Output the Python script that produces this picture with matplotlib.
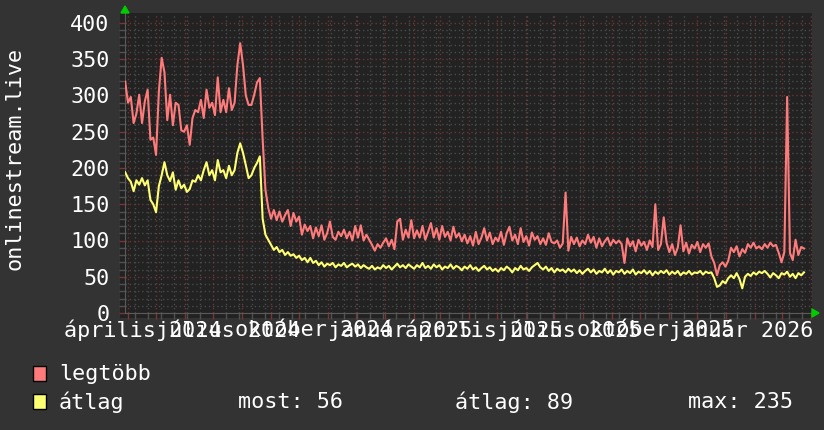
import numpy as np
import pandas as pd
import matplotlib
matplotlib.use('Agg')
import matplotlib.pyplot as plt
from matplotlib.patches import Rectangle, Polygon

# Adatok (3 naponta egy érték)
kezdet = '2024-03-29'
legtobb = [
    319, 290, 298, 262, 275, 301, 262, 292, 308, 239,
    242, 218, 305, 352, 332, 266, 301, 259, 290, 287,
    252, 250, 259, 232, 269, 280, 277, 294, 269, 308,
    283, 290, 273, 325, 277, 294, 277, 310, 280, 290,
    342, 372, 342, 300, 287, 287, 301, 318, 324, 240,
    170, 145, 130, 142, 128, 140, 126, 135, 142, 120,
    138, 126, 133, 108, 122, 113, 120, 103, 118, 106,
    121, 101, 110, 126, 105, 101, 112, 106, 115, 103,
    112, 100, 120, 104, 121, 100, 108, 101, 94, 86,
    95, 90, 97, 103, 92, 101, 88, 126, 130, 101,
    115, 104, 128, 103, 114, 104, 120, 101, 112, 124,
    104, 117, 101, 120, 105, 112, 100, 119, 104, 110,
    99, 108, 96, 106, 93, 112, 95, 104, 117, 100,
    111, 95, 104, 99, 112, 94, 110, 119, 100, 108,
    95, 117, 98, 106, 93, 111, 101, 106, 95, 103,
    94, 110, 98, 96, 100, 90, 96, 166, 86, 105,
    95, 104, 92, 100, 95, 108, 97, 105, 90, 103,
    92, 99, 104, 93, 101, 96, 100, 95, 69, 103,
    92, 99, 85, 101, 93, 98, 87, 100, 91, 150,
    87, 95, 132, 97, 84, 95, 80, 90, 121, 85,
    97, 82, 94, 89, 98, 84, 95, 90, 96, 78,
    69, 52, 66, 70, 64, 72, 90, 84, 92, 78,
    88, 83, 95, 90, 97, 89, 92, 88, 95, 90,
    97, 92, 94, 83, 70, 84, 298, 83, 73, 101,
    80, 91, 89,
]
atlag = [
    194, 186, 181, 168, 183, 177, 186, 176, 183, 156,
    150, 139, 175, 190, 208, 190, 182, 194, 170, 183,
    172, 177, 167, 171, 183, 181, 190, 183, 197, 208,
    190, 197, 183, 211, 194, 197, 186, 203, 190, 197,
    221, 234, 221, 204, 186, 190, 200, 207, 216, 130,
    108, 101, 94, 87, 91, 84, 87, 80, 84, 79,
    81, 76, 79, 73, 76, 70, 76, 69, 72, 66,
    70, 64, 68, 66, 69, 63, 67, 65, 69, 63,
    66, 68, 64, 67, 62, 66, 63, 61, 65, 60,
    63, 61, 66, 62, 65, 60, 64, 68, 63, 66,
    62, 67, 64, 61, 66, 63, 69, 62, 65, 61,
    67, 63, 66, 60, 64, 62, 67, 61, 65, 63,
    59, 64, 61, 66, 60, 63, 58, 62, 65, 60,
    63, 58, 61, 57, 62, 59, 64, 61, 56, 62,
    59, 65, 60, 62, 58, 63, 66, 69, 63, 60,
    64, 58, 62, 56, 61, 58, 60, 56, 61, 57,
    60, 55, 59, 54, 58, 61, 56, 60, 54, 58,
    56, 61, 55, 59, 53, 58, 56, 60, 54, 58,
    55, 60, 53, 57, 55, 59, 54, 58, 52, 57,
    54, 58, 55, 59, 53, 57, 54, 58, 52, 56,
    54, 58, 53, 56, 55, 58, 53, 57, 55, 56,
    48, 36, 38, 44, 41, 48, 52, 48, 55, 47,
    34, 50, 54, 51, 56, 53, 57, 55, 58, 54,
    49, 55, 52, 48, 55, 53, 57, 50, 54, 48,
    55, 52, 56,
]
datumok = pd.date_range(kezdet, periods=len(legtobb), freq='3D')

honap_cimkek = ['április 2024', 'július 2024', 'október 2024', 'január 2025',
                'április 2025', 'július 2025', 'október 2025', 'január 2026']
cimke_datumok = pd.to_datetime(['2024-04-01', '2024-07-01', '2024-10-01', '2025-01-01',
                                '2025-04-01', '2025-07-01', '2025-10-01', '2026-01-01'])
y_ertekek = list(range(0, 401, 50))
y_minor = list(range(0, 401, 10))
sorozat_nevek = ['legtöbb', 'átlag']
stat_szovegek = ['most: 56', 'átlag: 89', 'max: 235']

# Színek
HATTER = '#333333'
VASZON = '#222222'
PIROS = '#ff7b7b'
SARGA = '#ffff72'
W, H = 824, 430

plt.rcParams['font.family'] = ['DejaVu Sans Mono']
plt.rcParams['font.size'] = 15.7

fig = plt.figure(figsize=(W / 100, H / 100), dpi=100, facecolor=HATTER)

def px(x, y):
    return x / W, 1 - y / H

# vászon háttér
fig.add_artist(Rectangle(px(120, 318), 692 / W, 305 / H, transform=fig.transFigure,
                         facecolor=VASZON, edgecolor='none', zorder=0))

ax = fig.add_axes([125 / W, 1 - 313 / H, 687 / W, 300 / H])
ax.set_facecolor(VASZON)
ax.set_xlim(pd.Timestamp('2024-03-28 19:00'), pd.Timestamp('2026-04-02 14:00'))
ax.set_ylim(0, 400 * 300 / 290)

honapok = pd.date_range('2024-04-01', '2026-04-01', freq='MS')
ketheti = pd.date_range('2024-04-08', '2026-04-02', freq='14D')
ax.set_xticks(honapok)
ax.set_xticks(ketheti, minor=True)
ax.set_xticklabels([])
ax.set_yticks(y_ertekek)
ax.set_yticks(y_minor, minor=True)
ax.set_yticklabels([str(v) for v in y_ertekek], color='white')

ax.grid(which='minor', color='#4a4a4a', ls=(0, (1, 2)), lw=1)
ax.grid(which='major', color='#6e3434', ls=(0, (1, 2)), lw=1)
ax.set_axisbelow(True)
ax.tick_params(which='both', direction='out', length=4, width=1)
ax.tick_params(which='major', color='#7a3434')
ax.tick_params(which='minor', color='#505050')
ax.tick_params(axis='y', pad=7)

for s in ['top', 'right']:
    ax.spines[s].set_visible(False)
for s in ['left', 'bottom']:
    ax.spines[s].set_color('#5a5a5a')

ax.plot(datumok, legtobb, color=PIROS, lw=1.5, zorder=3)
ax.plot(datumok, atlag, color=SARGA, lw=1.5, zorder=4)

# hónap feliratok (a negyedév eleje után eltolva, mint az rrdtool)
for d, lab in zip(cimke_datumok, honap_cimkek):
    ax.text(d + pd.Timedelta(days=16), -17 / 300, lab, transform=ax.get_xaxis_transform(),
            ha='center', va='center', color='white')

fig.text(*px(15, 158), 'onlinestream.live', rotation=90, ha='center', va='center', color='white')

# nyilak
fig.add_artist(Polygon([px(121, 13), px(129, 13), px(125, 6)], closed=True,
                       transform=fig.transFigure, color='#00cc00'))
fig.add_artist(Polygon([px(812, 309), px(812, 317), px(819, 313)], closed=True,
                       transform=fig.transFigure, color='#00cc00'))

# jelmagyarázat
for (nev, szin, y) in zip(sorozat_nevek, [PIROS, SARGA], [374, 402]):
    fig.add_artist(Rectangle(px(33, y + 7), 13 / W, 15 / H, transform=fig.transFigure,
                             facecolor=szin, edgecolor='black', lw=1))
    fig.text(*px(59, y), nev, ha='left', va='center', color='white')
for szoveg, x in zip(stat_szovegek, [238, 455, 688]):
    fig.text(*px(x, 402), szoveg, ha='left', va='center', color='white')

fig.savefig('out.png', dpi=100, facecolor=HATTER)
